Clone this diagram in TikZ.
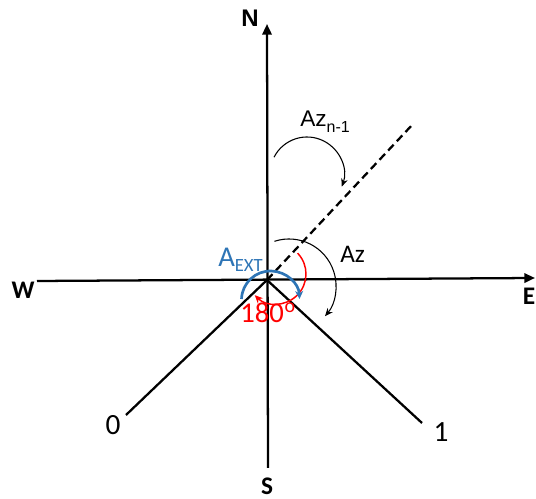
\documentclass[tikz,border=0pt]{standalone}
\usepackage{fontspec}
\setmainfont{Carlito}
\newfontfamily\arialfont{Liberation Sans}
\usetikzlibrary{arrows.meta,calc}
\definecolor{azblue}{RGB}{46,117,182}
\definecolor{azred}{RGB}{255,0,0}
\begin{document}
\begin{tikzpicture}[x=0.75pt,y=0.75pt,
  axis/.style={line width=1.7pt,black},
  axisarrow/.style={axis,-{Triangle[length=8pt,width=7pt]}},
  dashline/.style={line width=1.7pt,dash pattern=on 6pt off 3.5pt},
  thinarc/.style={line width=0.8pt,-{Stealth[length=6pt,width=5pt]}},
  redarc/.style={line width=1.1pt,azred,-{Stealth[length=6pt,width=5.5pt]}},
  bluearc/.style={line width=2pt,azblue,-{Stealth[length=6pt,width=6pt]}},
  dirlabel/.style={font=\fontsize{19}{20}\selectfont\bfseries,inner sep=0pt},
  numlabel/.style={font=\fontsize{22}{24}\selectfont,inner sep=0pt},
  lbl/.style={inner sep=0pt,anchor=base west}]
\useasboundingbox (0,0) rectangle (536,499);
% key points
\coordinate (O) at (267,219);
\coordinate (Ntip) at (267,475);
\coordinate (Send) at (268,31);
\coordinate (Wend) at (37,218);
\coordinate (Etip) at (535,221);
\coordinate (Z) at (126,84);
\coordinate (One) at (422,76);
\coordinate (D) at (413,375);
% axes
\draw[axisarrow] (Send) -- (Ntip);
\draw[axisarrow] (Wend) -- (Etip);
\draw[axis] (O) -- (Z);
\draw[axis] (O) -- (One);
\draw[dashline] (O) -- (D);
% labels
\node[dirlabel,font=\fontsize{18}{20}\selectfont\bfseries\arialfont] (N) at (250,481) {N};
\node[dirlabel] (W) at (23,209) {W};
\node[dirlabel] (E) at (529,203) {E};
\node[dirlabel] (S) at (267,13) {S};
\node[numlabel] (L0) at (113,74) {0};
\node[numlabel] (L1) at (441,67) {1};
% angle arcs
\coordinate (c1) at (307,325);
\draw[thinarc] ([shift={(153:37)}]c1) arc[start angle=153,end angle=-20,radius=37];
\node[lbl,font=\fontsize{17}{18}\selectfont\arialfont] (azn) at (300,372) {Az\raisebox{-4pt}{\fontsize{12}{12}\selectfont n-1}};
\coordinate (c2) at (289,213);
\draw[thinarc] ([shift={(108:47)}]c2) arc[start angle=108,end angle=-40,radius=47];
\node[lbl,font=\fontsize{19}{20}\selectfont] (az) at (340,236) {Az};
\coordinate (c3) at (276,225);
\draw[redarc] ([shift={(44:30)}]c3) arc[start angle=44,end angle=-135,radius=30];
\node[lbl,azred,font=\fontsize{21.5}{22}\selectfont] (deg) at (240,176) {180\kern0.5pt\raisebox{7.5pt}{\fontsize{15}{15}\selectfont o}};
\coordinate (c4) at (270.5,199);
\draw[bluearc] ([shift={(178:29)}]c4) arc[start angle=178,end angle=2,radius=29];
\node[lbl,azblue,font=\fontsize{21.5}{22}\selectfont] (aext) at (218,232) {A\raisebox{-3.75pt}{\fontsize{14}{14}\selectfont EXT}};
\end{tikzpicture}
\end{document}
